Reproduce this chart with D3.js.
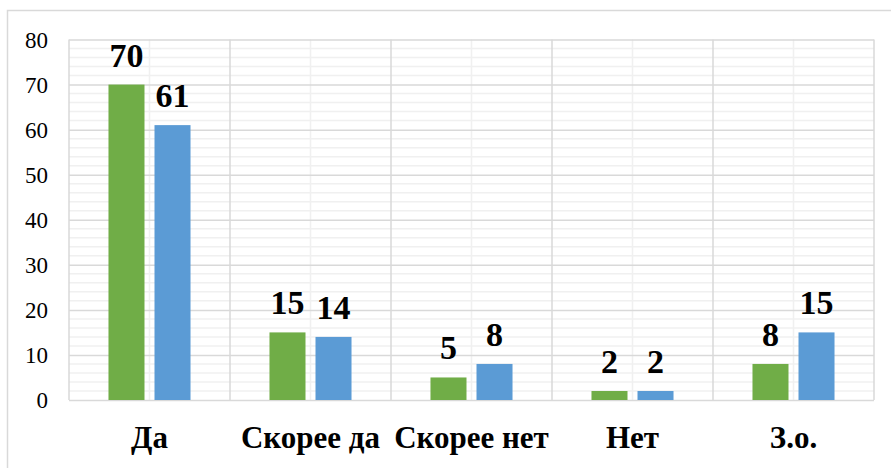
<!DOCTYPE html>
<html><head><meta charset="utf-8"><script src="https://cdn.jsdelivr.net/npm/d3@7"></script></head>
<body style="margin:0">
<svg width="891" height="468" id="chart"></svg>
<script>
// Данные
const categories = ["Да", "Скорее да", "Скорее нет", "Нет", "З.о."];
const seriesNames = ["Ряд 1", "Ряд 2"];
const series1 = [70, 15, 5, 2, 8];
const series2 = [61, 14, 8, 2, 15];
const yTicks = [0, 10, 20, 30, 40, 50, 60, 70, 80];
const colors = ["#70ad47", "#5b9bd5"];

const plot = { left: 69, right: 874, top: 39.5, bottom: 400 };

const svg = d3.select("#chart");

// рамка всей диаграммы (обрезана справа и снизу)
svg.append("rect")
    .attr("x", 7.5).attr("y", 10.5)
    .attr("width", 900).attr("height", 480)
    .attr("fill", "none")
    .attr("stroke", "#d9d9d9")
    .attr("stroke-width", 1.5);

const x0 = d3.scaleBand()
    .domain(categories)
    .range([plot.left, plot.right])
    .padding(0);

const x1 = d3.scaleBand()
    .domain(seriesNames)
    .range([0, x0.bandwidth()])
    .paddingInner(10 / 46)
    .paddingOuter(0.858);

const y = d3.scaleLinear()
    .domain([0, 80])
    .range([plot.bottom, plot.top]);

// вспомогательная сетка
const minorY = d3.range(0, 81, 2).filter(v => v % 10 !== 0);
svg.append("g")
    .selectAll("line")
    .data(minorY)
    .enter()
    .append("line")
    .attr("x1", plot.left).attr("x2", plot.right)
    .attr("y1", d => y(d)).attr("y2", d => y(d))
    .attr("stroke", "#f0f0f0")
    .attr("stroke-width", 1.5);

svg.append("g")
    .selectAll("line")
    .data(categories)
    .enter()
    .append("line")
    .attr("x1", d => x0(d) + x0.bandwidth() / 2)
    .attr("x2", d => x0(d) + x0.bandwidth() / 2)
    .attr("y1", plot.top).attr("y2", plot.bottom)
    .attr("stroke", "#f0f0f0")
    .attr("stroke-width", 1.5);

// основная сетка
svg.append("g")
    .attr("transform", `translate(${plot.left},0)`)
    .call(d3.axisLeft(y).tickValues(yTicks).tickSize(-(plot.right - plot.left)).tickFormat(""))
    .call(g => g.select(".domain").remove())
    .call(g => g.selectAll("line").attr("stroke", "#d9d9d9").attr("stroke-width", 1.5));

const vLines = categories.map(c => x0(c)).concat([plot.right]);
svg.append("g")
    .selectAll("line")
    .data(vLines)
    .enter()
    .append("line")
    .attr("x1", d => d).attr("x2", d => d)
    .attr("y1", plot.top).attr("y2", plot.bottom)
    .attr("stroke", "#d9d9d9")
    .attr("stroke-width", 1.5);

// подписи оси Y
svg.append("g")
    .selectAll("text")
    .data(yTicks)
    .enter()
    .append("text")
    .attr("x", 48)
    .attr("y", d => y(d))
    .attr("dy", "0.35em")
    .attr("text-anchor", "end")
    .attr("style", "font-family:'Liberation Serif',serif;font-size:23px")
    .text(d => d);

// столбцы
const rows = categories.map((c, i) => ({
    category: c,
    values: [series1[i], series2[i]]
}));

const groups = svg.append("g")
    .selectAll("g")
    .data(rows)
    .enter()
    .append("g")
    .attr("transform", d => `translate(${x0(d.category)},0)`);

groups.selectAll("rect")
    .data(d => d.values.map((v, j) => ({ name: seriesNames[j], value: v, j: j })))
    .enter()
    .append("rect")
    .attr("x", d => x1(d.name))
    .attr("y", d => y(d.value))
    .attr("width", x1.bandwidth())
    .attr("height", d => y(0) - y(d.value))
    .attr("fill", d => colors[d.j]);

groups.selectAll("text")
    .data(d => d.values.map((v, j) => ({ name: seriesNames[j], value: v })))
    .enter()
    .append("text")
    .attr("x", d => x1(d.name) + x1.bandwidth() / 2)
    .attr("y", d => y(d.value) - 18)
    .attr("text-anchor", "middle")
    .attr("style", "font-family:'Liberation Serif',serif;font-size:34px;font-weight:bold")
    .text(d => d.value);

// подписи категорий
svg.append("g")
    .selectAll("text")
    .data(categories)
    .enter()
    .append("text")
    .attr("x", d => x0(d) + x0.bandwidth() / 2)
    .attr("y", 448)
    .attr("text-anchor", "middle")
    .attr("style", "font-family:'Liberation Serif',serif;font-size:31px;font-weight:bold")
    .text(d => d);
</script>
</body></html>
